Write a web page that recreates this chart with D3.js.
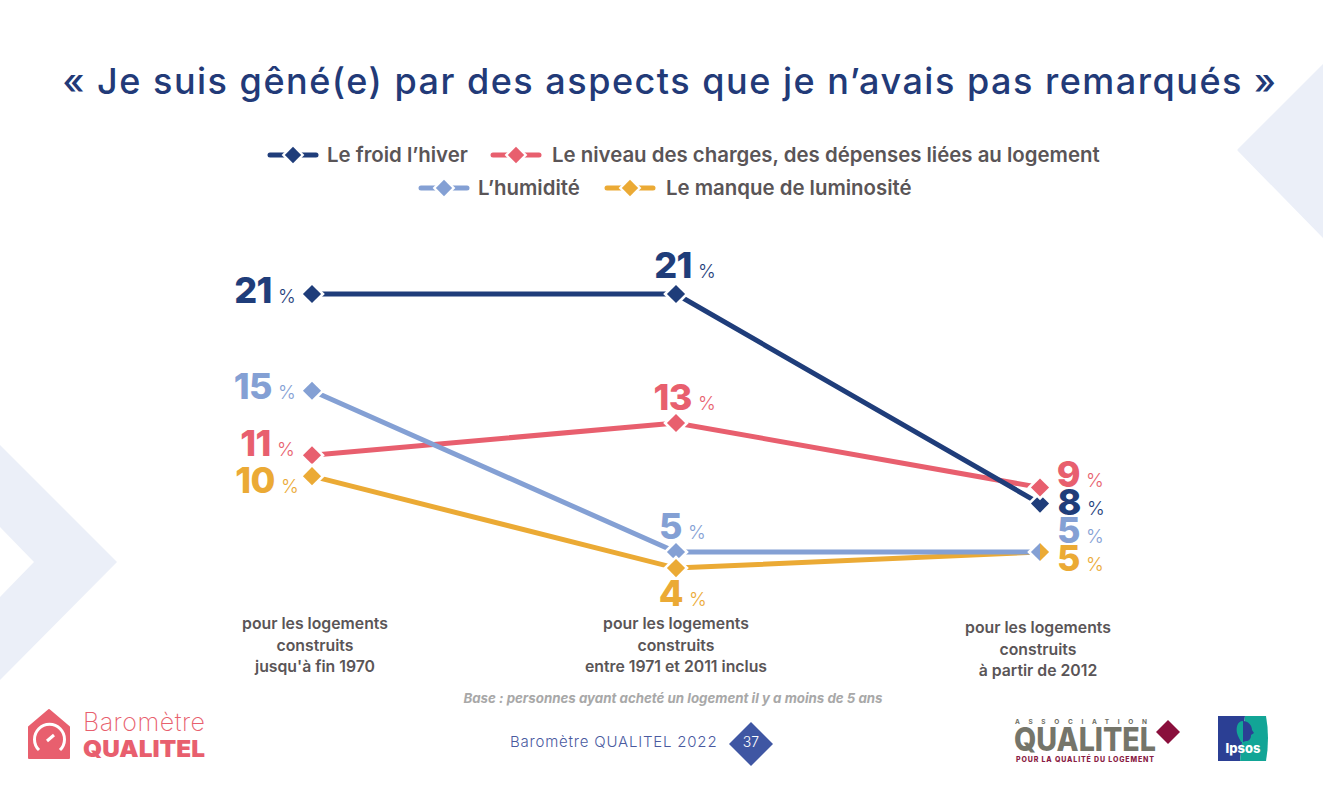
<!DOCTYPE html>
<html lang="fr">
<head>
<meta charset="utf-8">
<script src="https://cdn.jsdelivr.net/npm/d3@7"></script>
<style>
  html, body { margin: 0; padding: 0; background: #fff; overflow: hidden; }
  text { font-family: "Inter", "Noto Sans", sans-serif; }
</style>
</head>
<body>
<div id="root"></div>
<script>
const periods = ["jusqu'à fin 1970", "entre 1971 et 2011 inclus", "à partir de 2012"];
const seriesNames = [
  "Le froid l’hiver",
  "Le niveau des charges, des dépenses liées au logement",
  "L’humidité",
  "Le manque de luminosité"
];
const froid = [21, 21, 8];
const charges = [11, 13, 9];
const humidite = [15, 5, 5];
const luminosite = [9.7, 4, 5];
const seriesValues = [froid, charges, humidite, luminosite];
const seriesColors = ["#1f3d7a", "#e85f6e", "#84a0d4", "#ebaa35"];

const width = 1323;
const height = 797;

const svg = d3.select("#root").append("svg")
  .attr("width", width)
  .attr("height", height)
  .style("display", "block");

const xScale = d3.scalePoint().domain(periods).range([312, 1040]);
const yScale = d3.scaleLinear().domain([0, 21]).range([632.6, 294]);
const pct = d3.format(".0f");

// Background shapes
svg.append("path").attr("fill", "#ebeff8")
  .attr("stroke", "#ebeff8").attr("stroke-width", 3).attr("stroke-linejoin", "round")
  .attr("d", "M1325,64L1239,150L1325,238Z");
svg.append("path").attr("fill", "#ebeff8")
  .attr("d", "M0,445L117,562L0,680L0,597L34,562L0,527Z");

// Title
svg.append("text")
  .attr("x", 670).attr("y", 94)
  .attr("text-anchor", "middle")
  .attr("fill", "#223a78")
  .attr("font-size", 36)
  .attr("font-weight", 500)
  .attr("letter-spacing", 1.5)
  .text("« Je suis gêné(e) par des aspects que je n’avais pas remarqués »");

// Legend
const legendPos = [[270, 155], [493, 155], [421, 188], [607, 188]];
const legend = svg.selectAll(".legend").data(seriesNames).join("g")
  .attr("class", "legend")
  .attr("transform", (d, i) => `translate(${legendPos[i][0]},${legendPos[i][1]})`);
legend.append("line")
  .attr("x1", 0).attr("x2", 46)
  .attr("stroke", (d, i) => seriesColors[i])
  .attr("stroke-width", 5)
  .attr("stroke-linecap", "round");
legend.append("path")
  .attr("d", d3.symbol(d3.symbolDiamond2, 330))
  .attr("transform", "translate(23,0)")
  .attr("fill", "#fff");
legend.append("path")
  .attr("d", d3.symbol(d3.symbolDiamond2, 170))
  .attr("transform", "translate(23,0)")
  .attr("fill", (d, i) => seriesColors[i]);
legend.append("text")
  .attr("x", (d, i) => (i === 0 || i === 2 ? 57 : 59)).attr("y", 7)
  .attr("fill", "#5a5557")
  .attr("font-size", 20.4)
  .attr("font-weight", 600)
  .text(d => d);

// Lines
const line = d3.line()
  .x((d, i) => xScale(periods[i]))
  .y(d => yScale(d));

[3, 1, 2, 0].forEach((s) => {
  svg.append("path")
    .datum(seriesValues[s])
    .attr("fill", "none")
    .attr("stroke", seriesColors[s])
    .attr("stroke-width", 5)
    .attr("d", line);
});

// Markers
svg.append("clipPath").attr("id", "right-half")
  .append("rect").attr("x", 0).attr("y", -20).attr("width", 20).attr("height", 40);

seriesValues.forEach((values, s) => {
  values.forEach((v, i) => {
    const g = svg.append("g")
      .attr("transform", `translate(${xScale(periods[i])},${yScale(v)})`);
    const inner = g.append("g");
    // the two last points coincide: each shows one half of its marker
    if (s === 3 && i === 2) inner.attr("clip-path", "url(#right-half)");
    inner.append("path").attr("d", d3.symbol(d3.symbolDiamond2, 420)).attr("fill", "#fff");
    inner.append("path").attr("d", d3.symbol(d3.symbolDiamond2, 210)).attr("fill", seriesColors[s]);
  });
});

// Value labels: right edge of number, baseline
const labelPos = [
  [[272, 303], [692, 278], [1081, 515]],
  [[271, 456], [692, 410], [1080, 487]],
  [[272, 399], [682, 539], [1080, 543]],
  [[275, 493], [683, 606], [1080, 571]]
];
seriesValues.forEach((values, s) => {
  values.forEach((v, i) => {
    const [x, y] = labelPos[s][i];
    svg.append("text")
      .attr("x", x).attr("y", y)
      .attr("text-anchor", "end")
      .attr("fill", seriesColors[s])
      .attr("font-size", 36)
      .attr("font-weight", 800)
      .attr("letter-spacing", -0.5)
      .text(pct(v));
    svg.append("text")
      .attr("x", x + 6).attr("y", y)
      .attr("fill", seriesColors[s])
      .attr("font-size", 19)
      .attr("font-weight", 300)
      .text("%");
  });
});

// Category labels
const catY = [629, 629, 633];
periods.forEach((p, i) => {
  const t = svg.append("text")
    .attr("text-anchor", "middle")
    .attr("fill", "#5a5557")
    .attr("font-size", 15.8)
    .attr("font-weight", 600);
  ["pour les logements", "construits", p].forEach((s, j) => {
    t.append("tspan")
      .attr("x", xScale(p) + (i === 0 ? 3 : i === 2 ? -2 : 0))
      .attr("y", catY[i] + j * 21.5)
      .text(s);
  });
});

// Base note
svg.append("text")
  .attr("x", 673).attr("y", 703)
  .attr("text-anchor", "middle")
  .attr("fill", "#a8a8a8")
  .attr("font-size", 13.3)
  .attr("font-weight", 700)
  .attr("font-style", "italic")
  .text("Base : personnes ayant acheté un logement il y a moins de 5 ans");

// Footer
svg.append("text")
  .attr("x", 510).attr("y", 747)
  .attr("fill", "#4a5a9f")
  .attr("font-size", 15)
  .attr("font-weight", 300)
  .attr("letter-spacing", 0.8)
  .text("Baromètre QUALITEL 2022");
svg.append("path")
  .attr("d", "M751,722L773,744L751,766L729,744Z")
  .attr("fill", "#3f56a3");
svg.append("text")
  .attr("x", 751).attr("y", 747)
  .attr("text-anchor", "middle")
  .attr("fill", "#fff")
  .attr("font-size", 14)
  .attr("font-weight", 300)
  .text("37");

// Baromètre logo
svg.append("path")
  .attr("fill", "#e85f6e")
  .attr("stroke", "#e85f6e").attr("stroke-width", 2).attr("stroke-linejoin", "round")
  .attr("d", "M29,758L29,727L49,710L69,727L69,758Z");
svg.append("path")
  .attr("fill", "none").attr("stroke", "#fff").attr("stroke-width", 3)
  .attr("d", "M39,750A15,15 0 1 1 60,750");
svg.append("path")
  .attr("stroke", "#fff").attr("stroke-width", 3)
  .attr("d", "M47,741L54,735");
svg.append("text")
  .attr("x", 83).attr("y", 731)
  .attr("fill", "#e85f6e")
  .attr("font-size", 25)
  .attr("font-weight", 200)
  .attr("textLength", 122)
  .text("Baromètre");
svg.append("text")
  .attr("x", 83).attr("y", 757)
  .attr("fill", "#e85f6e")
  .attr("font-size", 23)
  .attr("font-weight", 900)
  .attr("textLength", 122)
  .attr("lengthAdjust", "spacingAndGlyphs")
  .text("QUALITEL");

// Association Qualitel logo
svg.append("text")
  .attr("x", 1015).attr("y", 724)
  .attr("fill", "#6e6e64")
  .attr("font-size", 6.5)
  .attr("font-weight", 700)
  .attr("textLength", 132)
  .text("ASSOCIATION");
svg.append("text")
  .attr("x", 1014).attr("y", 751)
  .attr("fill", "#75756a")
  .attr("font-size", 32)
  .attr("font-weight", 800)
  .attr("textLength", 142)
  .attr("lengthAdjust", "spacingAndGlyphs")
  .text("QUALITEL");
svg.append("text")
  .attr("x", 1016).attr("y", 762)
  .attr("fill", "#8a1c44")
  .attr("font-size", 7)
  .attr("font-weight", 800)
  .attr("textLength", 138)
  .text("POUR LA QUALITÉ DU LOGEMENT");
svg.append("path")
  .attr("fill", "#8a0f3c")
  .attr("d", "M1168,720L1180,732L1168,744L1156,732Z");

// Ipsos logo
svg.append("path").attr("fill", "#2b3f94").attr("d", "M1218,716L1245,716L1240,761L1218,761Z");
svg.append("path").attr("fill", "#12a596").attr("d", "M1245,716L1266,716Q1270,738 1266,761L1240,761Z");
svg.append("path").attr("fill", "#12a596")
  .attr("d", "M1243,721C1237,721 1236,728 1237,733C1238,737 1240,739 1241,742L1243,742Z");
svg.append("path").attr("fill", "#2b3f94")
  .attr("d", "M1243,721C1248,721 1252,725 1252,730L1254,733L1251,735C1251,739 1249,741 1246,741L1243,742Z");
svg.append("text")
  .attr("x", 1243).attr("y", 753)
  .attr("text-anchor", "middle")
  .attr("fill", "#fff")
  .attr("font-size", 13)
  .attr("font-weight", 800)
  .text("Ipsos");
</script>
</body>
</html>
